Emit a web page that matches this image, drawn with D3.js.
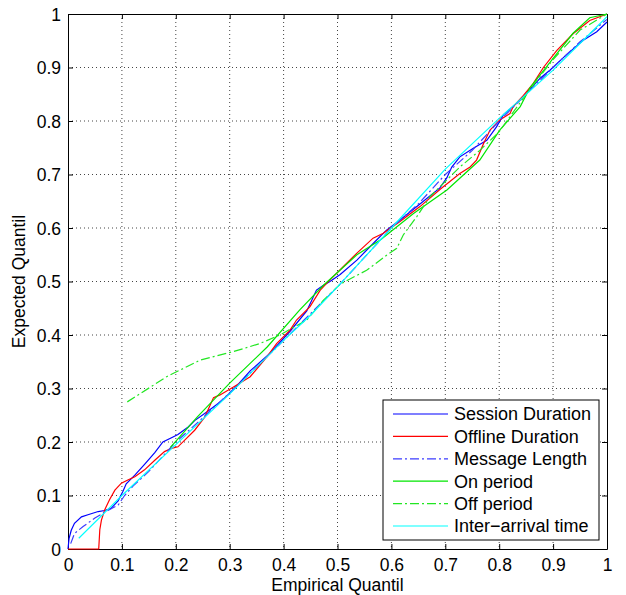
<!DOCTYPE html>
<html>
  <head>
    <meta charset="utf-8" />
    <title>qq-plot</title>
    <script src="https://cdn.jsdelivr.net/npm/d3@7"></script>
    <style type="text/css">
      body { margin: 0; background: #fff; }
      text { font-family: "Liberation Sans", Arial, sans-serif; fill: #000; }
    </style>
  </head>
  <body>
    <svg id="chart" width="626" height="595"></svg>
    <script type="text/javascript">
      // [empirical, expected] pairs
      var sessionDuration = [
        [0, 0], [0.002, 0.02], [0.006, 0.035], [0.012, 0.048], [0.025, 0.06], [0.037, 0.064],
        [0.056, 0.07], [0.068, 0.072], [0.08, 0.076], [0.093, 0.09], [0.102, 0.108], [0.108, 0.122],
        [0.124, 0.138], [0.142, 0.158], [0.161, 0.18], [0.176, 0.2], [0.192, 0.208], [0.204, 0.214],
        [0.223, 0.228], [0.235, 0.24], [0.26, 0.258], [0.284, 0.276], [0.309, 0.3], [0.338, 0.333],
        [0.375, 0.366], [0.412, 0.407], [0.443, 0.445], [0.461, 0.484], [0.474, 0.493], [0.486, 0.5],
        [0.505, 0.513], [0.536, 0.54], [0.573, 0.578], [0.591, 0.596], [0.616, 0.615], [0.653, 0.645],
        [0.69, 0.675], [0.703, 0.694], [0.712, 0.714], [0.727, 0.733], [0.752, 0.749], [0.777, 0.764],
        [0.795, 0.789], [0.808, 0.812], [0.832, 0.833], [0.851, 0.852], [0.876, 0.88], [0.894, 0.895],
        [0.925, 0.924], [0.956, 0.951], [0.981, 0.967], [1, 0.985]
      ];
      var offlineDuration = [
        [0, 0], [0.057, 0], [0.059, 0.036], [0.062, 0.054], [0.068, 0.073], [0.077, 0.092],
        [0.087, 0.11], [0.099, 0.123], [0.111, 0.129], [0.124, 0.135], [0.142, 0.148], [0.161, 0.166],
        [0.179, 0.182], [0.192, 0.188], [0.204, 0.191], [0.217, 0.204], [0.235, 0.222], [0.254, 0.247],
        [0.27, 0.283], [0.282, 0.288], [0.307, 0.303], [0.338, 0.322], [0.369, 0.359], [0.387, 0.384],
        [0.412, 0.409], [0.424, 0.428], [0.449, 0.453], [0.468, 0.484], [0.486, 0.503], [0.511, 0.528],
        [0.536, 0.553], [0.566, 0.581], [0.585, 0.59], [0.616, 0.612], [0.653, 0.64], [0.69, 0.672],
        [0.727, 0.702], [0.746, 0.714], [0.758, 0.727], [0.771, 0.758], [0.783, 0.783], [0.801, 0.802],
        [0.82, 0.814], [0.826, 0.827], [0.845, 0.848], [0.863, 0.87], [0.882, 0.9], [0.907, 0.932],
        [0.937, 0.963], [0.968, 0.988], [1, 1]
      ];
      var messageLength = [
        [0.005, 0.01], [0.012, 0.029], [0.028, 0.042], [0.05, 0.058], [0.07, 0.07], [0.093, 0.082],
        [0.105, 0.1], [0.121, 0.118], [0.15, 0.145], [0.2, 0.2], [0.25, 0.245], [0.3, 0.292],
        [0.35, 0.34], [0.4, 0.39], [0.45, 0.44], [0.5, 0.49], [0.55, 0.545], [0.6, 0.6],
        [0.65, 0.645], [0.7, 0.7], [0.75, 0.745], [0.8, 0.8], [0.85, 0.85], [0.9, 0.9],
        [0.95, 0.948], [1, 0.99]
      ];
      var onPeriod = [
        [0.19, 0.19], [0.24, 0.247], [0.3, 0.31], [0.37, 0.378], [0.43, 0.447], [0.474, 0.493],
        [0.536, 0.55], [0.58, 0.578], [0.641, 0.627], [0.703, 0.671], [0.764, 0.727], [0.801, 0.783],
        [0.839, 0.827], [0.857, 0.862], [0.907, 0.926], [0.937, 0.964], [0.968, 0.993], [1, 1]
      ];
      var offPeriod = [
        [0.11, 0.275], [0.183, 0.322], [0.245, 0.353], [0.307, 0.369], [0.356, 0.384], [0.393, 0.4],
        [0.443, 0.428], [0.474, 0.465], [0.505, 0.495], [0.554, 0.521], [0.591, 0.549], [0.61, 0.562],
        [0.622, 0.587], [0.647, 0.621], [0.672, 0.659], [0.727, 0.714], [0.764, 0.745], [0.8, 0.78],
        [0.85, 0.85], [0.9, 0.915], [0.95, 0.97], [1, 1]
      ];
      var interArrival = [
        [0.02, 0.02], [0.1, 0.1], [0.2, 0.195], [0.3, 0.29], [0.4, 0.39], [0.45, 0.437],
        [0.5, 0.49], [0.55, 0.545], [0.6, 0.6], [0.7, 0.71], [0.8, 0.805], [0.9, 0.895],
        [0.97, 0.965], [1, 0.995]
      ];

      var seriesNames = ['Session Duration', 'Offline Duration', 'Message Length',
        'On period', 'Off period', 'Inter\u2212arrival time'];
      var tickValues = d3.range(0, 11).map(function (i) { return i / 10; });
      var tickLabels = ['0', '0.1', '0.2', '0.3', '0.4', '0.5', '0.6', '0.7', '0.8', '0.9', '1'];

      var series = [
        { name: seriesNames[0], data: sessionDuration, color: '#0000ff', dash: null },
        { name: seriesNames[1], data: offlineDuration, color: '#ff0000', dash: null },
        { name: seriesNames[2], data: messageLength, color: '#3c3cff', dash: '9,3,2,3' },
        { name: seriesNames[3], data: onPeriod, color: '#00e600', dash: null },
        { name: seriesNames[4], data: offPeriod, color: '#22e622', dash: '9,3,2,3' },
        { name: seriesNames[5], data: interArrival, color: '#00ffff', dash: null }
      ];

      var L = 68, R = 607, T = 14, B = 549;
      var x = d3.scaleLinear().domain([0, 1]).range([L, R]);
      var y = d3.scaleLinear().domain([0, 1]).range([B, T]);

      var svg = d3.select('#chart');

      // grid
      var grid = svg.append('g').attr('stroke', '#444').attr('stroke-dasharray', '1,3').attr('stroke-width', 1);
      tickValues.slice(1, 10).forEach(function (v) {
        grid.append('line').attr('x1', x(v)).attr('x2', x(v)).attr('y1', T).attr('y2', B);
        grid.append('line').attr('x1', L).attr('x2', R).attr('y1', y(v)).attr('y2', y(v));
      });

      // axes (ticks inside, as in matlab)
      var fmt = function (d, i) { return tickLabels[i]; };
      var xAx = svg.append('g').attr('transform', 'translate(0,' + B + ')')
        .call(d3.axisBottom(x).tickValues(tickValues).tickFormat(fmt).tickSizeInner(-5).tickSizeOuter(0).tickPadding(10));
      var yAx = svg.append('g').attr('transform', 'translate(' + L + ',0)')
        .call(d3.axisLeft(y).tickValues(tickValues).tickFormat(fmt).tickSizeInner(-5).tickSizeOuter(0).tickPadding(7));
      svg.append('g').attr('transform', 'translate(0,' + T + ')')
        .call(d3.axisTop(x).tickValues(tickValues).tickFormat('').tickSizeInner(-5).tickSizeOuter(0));
      svg.append('g').attr('transform', 'translate(' + R + ',0)')
        .call(d3.axisRight(y).tickValues(tickValues).tickFormat('').tickSizeInner(-5).tickSizeOuter(0));
      svg.selectAll('.domain').attr('stroke', '#000');
      svg.selectAll('.tick line').attr('stroke', '#000');
      svg.selectAll('.tick text').style('font-size', '17.5px').style('font-family', '"Liberation Sans", Arial, sans-serif');
      yAx.selectAll('.tick text').attr('dy', '0.36em');

      // curves
      var line = d3.line().x(function (d) { return x(d[0]); }).y(function (d) { return y(d[1]); });
      series.forEach(function (s) {
        svg.append('path').datum(s.data)
          .attr('fill', 'none').attr('stroke', s.color).attr('stroke-width', 1.2)
          .attr('stroke-dasharray', s.dash).attr('d', line);
      });

      // labels
      svg.append('text').attr('x', (L + R) / 2).attr('y', 591).attr('text-anchor', 'middle')
        .style('font-size', '17.5px').text('Empirical Quantil');
      svg.append('text').attr('transform', 'translate(25,' + (T + B) / 2 + ') rotate(-90)')
        .attr('text-anchor', 'middle').style('font-size', '17.5px').text('Expected Quantil');

      // legend
      var lg = svg.append('g');
      lg.append('rect').attr('x', 383).attr('y', 400).attr('width', 216).attr('height', 140)
        .attr('fill', '#fff').attr('stroke', '#000');
      series.forEach(function (s, i) {
        var yy = 414 + i * 22.4;
        lg.append('line').attr('x1', 393).attr('x2', 448).attr('y1', yy).attr('y2', yy)
          .attr('stroke', s.color).attr('stroke-width', 1.2).attr('stroke-dasharray', s.dash);
        lg.append('text').attr('x', 454).attr('y', yy).attr('dy', '0.36em')
          .style('font-size', '18px').text(s.name);
      });
    </script>
  </body>
</html>
